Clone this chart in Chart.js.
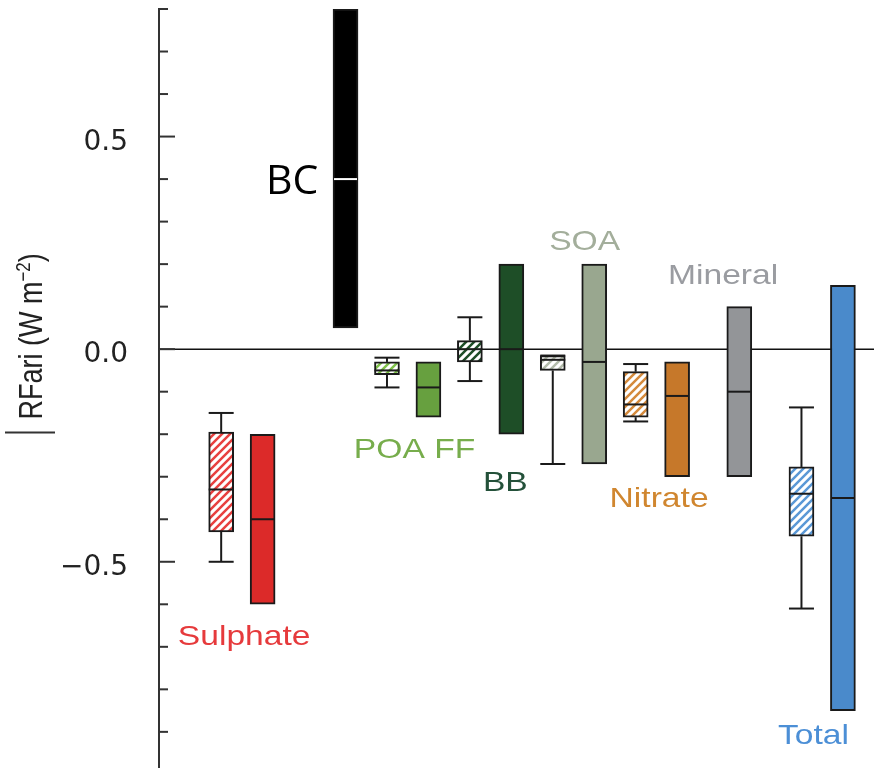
<!DOCTYPE html>
<html>
<head>
<meta charset="utf-8">
<script src="https://cdn.jsdelivr.net/npm/chart.js@4.4.1/dist/chart.umd.min.js"></script>
<style>
  html, body { margin:0; padding:0; background:#fff; }
  #wrap { width:874px; height:768px; }
</style>
</head>
<body>
<div id="wrap"><canvas id="rfChart" width="874" height="768"></canvas></div>
<script>
// aerosol species, left to right
let species = ["Sulphate", "BC", "POA FF", "BB", "SOA", "Nitrate", "Mineral", "Total"];

// where each box sits along the x axis (null = no box)
let modelSlot = [0, null, 8, 12, 16, 20, null, 28];
let bestSlot  = [2, 6, 10, 14, 18, 22, 25, 30];

// hatched boxes: model spread
let modelMin  = [-0.50, null, -0.09, -0.075, -0.27,  -0.17,  null, -0.61];
let modelLow  = [-0.43, null, -0.06, -0.03,  -0.05,  -0.16,  null, -0.44];
let modelMed  = [-0.33, null, -0.05,  0.00,  -0.025, -0.13,  null, -0.34];
let modelHigh = [-0.195, null, -0.03, 0.02,  -0.015, -0.053, null, -0.277];
let modelMax  = [-0.15, null, -0.02,  0.075, -0.015, -0.035, null, -0.137];

// solid boxes: best estimate and uncertainty range
let bestLow  = [-0.60, 0.05, -0.16, -0.20, -0.27, -0.30, -0.30, -0.85];
let bestMid  = [-0.40, 0.40, -0.09,  0.00, -0.03, -0.11, -0.10, -0.35];
let bestHigh = [-0.20, 0.80, -0.03,  0.20,  0.20, -0.03,  0.10,  0.15];

// y tick labels
let tickVals = [-0.5, 0, 0.5];

// ---- styling ----
let fillColors   = ["#dc2a29", "#000000", "#67a03f", "#1e4e27", "#99a78f", "#c6782a", "#939598", "#4a8acb"];
let stripeColors = ["#e8403f", null, "#7fc24a", "#1e4e27", "#b3bcab", "#d48a3c", null, "#5a98d6"];
let textColors   = ["#e63a3c", "#000000", "#77ad4c", "#24513a", "#a3ae9b", "#d0862f", "#9a9ca1", "#4c8fd6"];

// label anchors in data units (x slot, y value at baseline)
let labelAtX = [1.11, 3.42, 9.33, 13.71, 17.54, 21.13, 24.22, 28.58];
let labelAtY = [-0.696, 0.365, -0.256, -0.334, 0.233, -0.371, 0.153, -0.929];


function stripes(color){
    let c = document.createElement("canvas");
    c.width = 8; c.height = 8;
    let g = c.getContext("2d");
    g.fillStyle = "#ffffff";
    g.fillRect(0, 0, 8, 8);
    g.strokeStyle = color;
    g.lineWidth = 2.5;
    g.beginPath();
    g.moveTo(-2, 10); g.lineTo(10, -2);
    g.moveTo(-2, 2);  g.lineTo(2, -2);
    g.moveTo(6, 10);  g.lineTo(10, 6);
    g.stroke();
    return g.createPattern(c, "repeat");
}

let modelIdx = [];
species.forEach(function(s, i){
    if(modelSlot[i] !== null) modelIdx.push(i);
});

let modelData = modelIdx.map(i => ({x: modelSlot[i], y: [modelLow[i], modelHigh[i]]}));
let modelFill = modelIdx.map(i => stripes(stripeColors[i]));
let bestData  = species.map((s, i) => ({x: bestSlot[i], y: [bestLow[i], bestHigh[i]]}));

function fmt(v){
    if(Math.abs(v) < 1e-9) return "0.0";
    let t = Math.abs(v).toFixed(1);
    return v < 0 ? "\u2212" + t : t;
}

function line(ctx, x1, y1, x2, y2){
    ctx.beginPath();
    ctx.moveTo(x1, y1);
    ctx.lineTo(x2, y2);
    ctx.stroke();
}

let decor = {
    id: "decor",
    beforeDatasetsDraw(chart){
        let ctx = chart.ctx, a = chart.chartArea, y = chart.scales.y;
        let y0 = y.getPixelForValue(0);
        ctx.save();
        ctx.strokeStyle = "#111";
        ctx.lineWidth = 1.5;
        line(ctx, a.left, y0, a.right, y0);
        ctx.restore();
    },
    afterDatasetsDraw(chart){
        let ctx = chart.ctx, a = chart.chartArea;
        let xs = chart.scales.x, ys = chart.scales.y;
        ctx.save();

        // whiskers and medians of hatched boxes
        ctx.strokeStyle = "#1a1a1a";
        ctx.lineWidth = 2;
        chart.getDatasetMeta(0).data.forEach(function(el, j){
            let i = modelIdx[j];
            let p = el.getProps(["x", "width"], true);
            let l = p.x - p.width / 2, r = p.x + p.width / 2;
            let yMax = ys.getPixelForValue(modelMax[i]);
            let yHi = ys.getPixelForValue(modelHigh[i]);
            let yLo = ys.getPixelForValue(modelLow[i]);
            let yMin = ys.getPixelForValue(modelMin[i]);
            line(ctx, p.x, yMax, p.x, yHi);
            line(ctx, p.x, yLo, p.x, yMin);
            line(ctx, l, yMax, r, yMax);
            line(ctx, l, yMin, r, yMin);
            let yMed = ys.getPixelForValue(modelMed[i]);
            line(ctx, l, yMed, r, yMed);
        });

        // medians of solid boxes
        chart.getDatasetMeta(1).data.forEach(function(el, i){
            let p = el.getProps(["x", "width"], true);
            let yMid = ys.getPixelForValue(bestMid[i]);
            ctx.strokeStyle = species[i] === "BC" ? "#ffffff" : "#1a1a1a";
            line(ctx, p.x - p.width / 2 + 1, yMid, p.x + p.width / 2 - 1, yMid);
        });

        // inward tick marks every 0.1
        ctx.strokeStyle = "#333";
        ctx.lineWidth = 2;
        for(let k = -9; k <= 8; k++){
            let py = ys.getPixelForValue(k / 10);
            let len = (k % 5 === 0) ? 16 : 9;
            line(ctx, a.left, py, a.left + len, py);
        }

        // species labels
        ctx.textAlign = "center";
        ctx.textBaseline = "alphabetic";
        species.forEach(function(name, i){
            let px = xs.getPixelForValue(labelAtX[i]);
            let py = ys.getPixelForValue(labelAtY[i]);
            ctx.save();
            ctx.translate(px, py);
            if(name === "BC"){
                ctx.font = "41px 'Open Sans'";
            }else{
                ctx.font = "28px 'Liberation Sans'";
                ctx.scale(1.2, 1);
            }
            ctx.fillStyle = textColors[i];
            ctx.fillText(name, 0, 0);
            ctx.restore();
        });

        // y axis title
        let tx = a.left - 117, ty = ys.getPixelForValue(0.03);
        ctx.save();
        ctx.translate(tx, ty);
        ctx.rotate(-Math.PI / 2);
        ctx.scale(1, 1.2);
        ctx.fillStyle = "#222";
        ctx.textAlign = "left";
        let big = "27px 'Liberation Sans'", small = "17px 'Liberation Sans'";
        ctx.font = big;
        let w1 = ctx.measureText("RFari (W m").width;
        let w3 = ctx.measureText(")").width;
        ctx.font = small;
        let w2 = ctx.measureText("\u22122").width;
        let start = -(w1 + w2 + w3) / 2;
        ctx.font = big;
        ctx.fillText("RFari (W m", start, 0);
        ctx.font = small;
        ctx.fillText("\u22122", start + w1, -10);
        ctx.font = big;
        ctx.fillText(")", start + w1 + w2, 0);
        ctx.restore();
        ctx.strokeStyle = "#333";
        ctx.lineWidth = 2;
        line(ctx, tx - 37, ty + 96, tx + 13, ty + 96);

        ctx.restore();
    }
};

window.onload = function(){
    let ctx = document.getElementById("rfChart");
    new Chart(ctx, {
        type: "bar",
        data: {
            datasets: [
                {
                    label: "models",
                    data: modelData,
                    backgroundColor: modelFill,
                    borderColor: "#1a1a1a",
                    borderWidth: 2,
                    borderSkipped: false,
                    barThickness: 25,
                    grouped: false
                },
                {
                    label: "best estimate",
                    data: bestData,
                    backgroundColor: fillColors,
                    borderColor: "#1a1a1a",
                    borderWidth: 2,
                    borderSkipped: false,
                    barThickness: 25,
                    grouped: false
                }
            ]
        },
        options: {
            responsive: false,
            animation: false,
            devicePixelRatio: 1,
            layout: { padding: { top: 9, left: 0, right: 0, bottom: 0 } },
            plugins: { legend: { display: false }, tooltip: { enabled: false } },
            scales: {
                x: { type: "linear", min: -3, max: 31.5, offset: false, display: false },
                y: {
                    min: -0.985,
                    max: 0.8,
                    afterBuildTicks: function(s){
                        s.ticks = tickVals.map(v => ({value: v}));
                    },
                    afterFit: function(s){
                        s.width = 159;
                        s.paddingTop = 0;
                        s.paddingBottom = 0;
                    },
                    grid: { display: true, drawOnChartArea: false, drawTicks: false },
                    border: { display: true, color: "#333", width: 2 },
                    ticks: {
                        font: { family: "DejaVu Sans", size: 28 },
                        color: "#222",
                        padding: 31,
                        labelOffset: 6,
                        callback: v => fmt(v)
                    }
                }
            }
        },
        plugins: [decor]
    });
};
</script>
</body>
</html>
